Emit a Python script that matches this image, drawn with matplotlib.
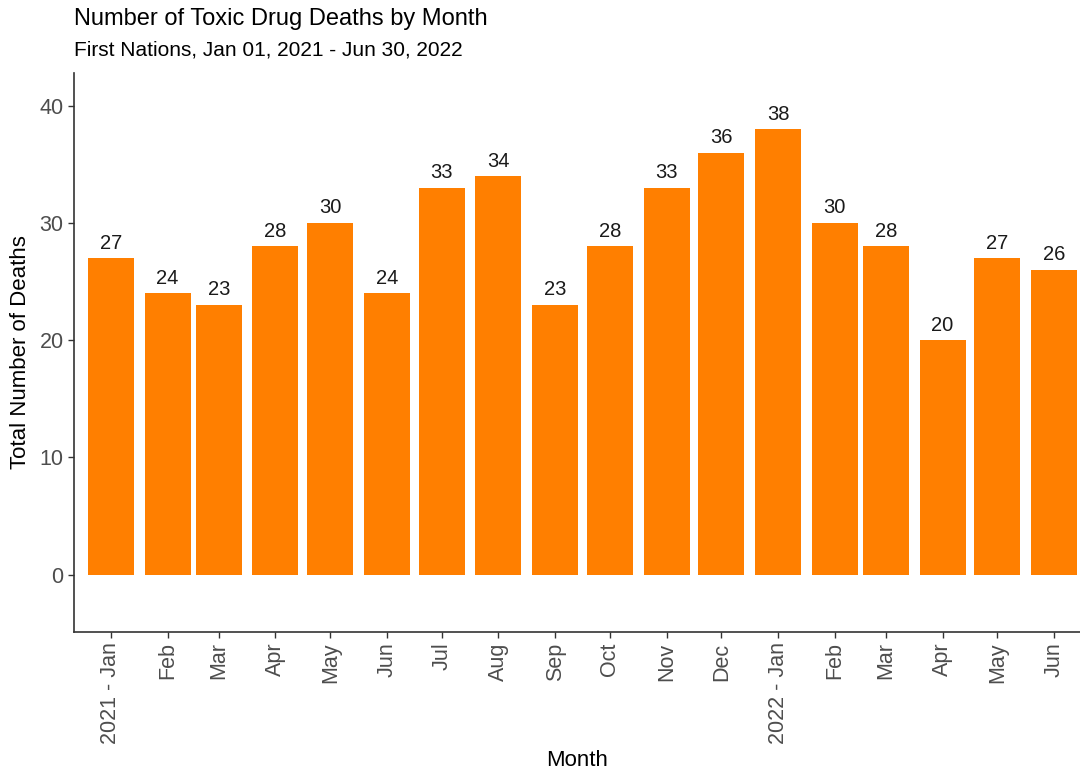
import matplotlib.pyplot as plt
import pandas as pd

plt.rcParams['font.family'] = ['Liberation Sans', 'DejaVu Sans']

# monthly counts
months = pd.date_range('2021-01-01', '2022-06-01', freq='MS')
deaths = [27, 24, 23, 28, 30, 24, 33, 34, 23, 28, 33, 36, 38, 30, 28, 20, 27, 26]
tick_labels = ['2021 - Jan', 'Feb', 'Mar', 'Apr', 'May', 'Jun', 'Jul', 'Aug', 'Sep',
               'Oct', 'Nov', 'Dec', '2022 - Jan', 'Feb', 'Mar', 'Apr', 'May', 'Jun']

fig = plt.figure(figsize=(10.8, 7.69), dpi=100)
ax = fig.add_axes([74 / 1080, 137 / 769, 1 - 74 / 1080, (632 - 73) / 769])

ax.bar(months, deaths, width=25.2, color='#FF7F00')

for m, d in zip(months, deaths):
    ax.annotate(str(d), (m, d), xytext=(0, 4), textcoords='offset points',
                ha='center', va='bottom', fontsize=14.5, color='#1a1a1a')

ax.set_xlim(months[0] - pd.Timedelta(days=20.2), months[-1] + pd.Timedelta(days=14.2))
ax.set_ylim(-4.9, 42.8)
ax.set_yticks([0, 10, 20, 30, 40])
ax.set_xticks(months)
ax.set_xticklabels(tick_labels, rotation=90)

ax.tick_params(axis='both', labelsize=15.5, labelcolor='#4D4D4D', color='#333333',
               length=4, width=1)
for side in ['top', 'right']:
    ax.spines[side].set_visible(False)
for side in ['left', 'bottom']:
    ax.spines[side].set_color('#333333')
    ax.spines[side].set_linewidth(1.2)

ax.set_xlabel('Month', fontsize=16)
ax.set_ylabel('Total Number of Deaths', fontsize=16, labelpad=6)

fig.text(74 / 1080, 1 - 19 / 769, 'Number of Toxic Drug Deaths by Month',
         fontsize=17, va='center', ha='left')
fig.text(74 / 1080, 1 - 50 / 769, 'First Nations, Jan 01, 2021 - Jun 30, 2022',
         fontsize=15, va='center', ha='left')

fig.savefig('out.png', dpi=100)
